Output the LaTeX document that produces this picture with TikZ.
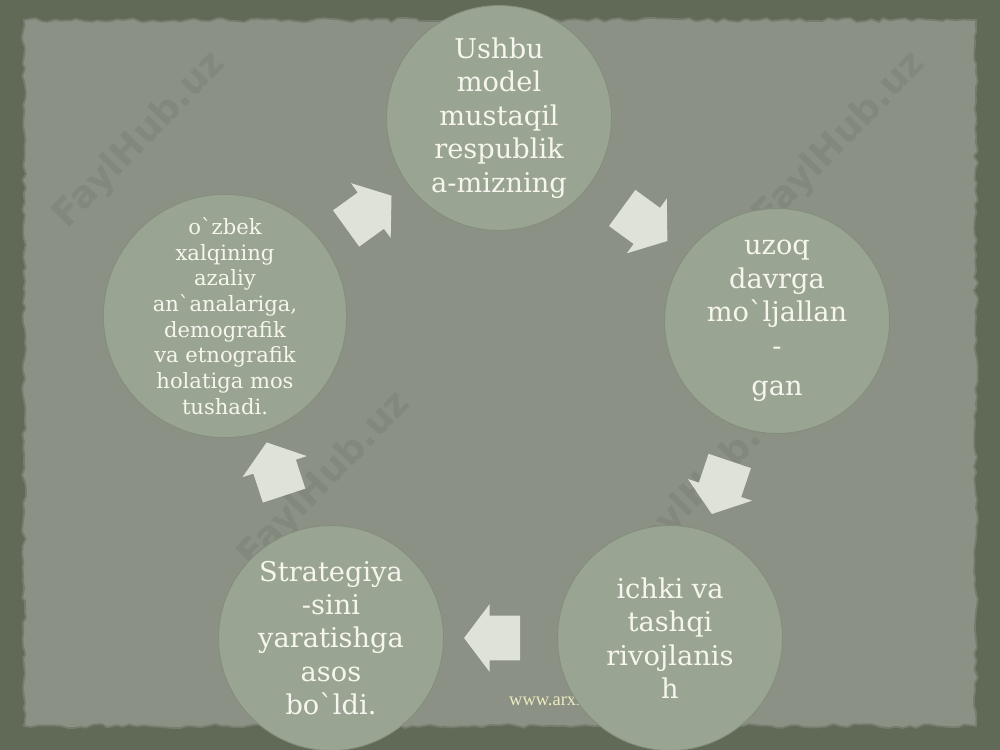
\documentclass[tikz,border=0pt]{standalone}
\usepackage{fontspec}
\setmainfont{DejaVu Serif}
\newfontfamily\markfont{DejaVu Sans}
\newfontfamily\urlfont{Liberation Serif}
\usetikzlibrary{positioning, calc, shapes.arrows, decorations.pathmorphing}
\definecolor{bgolive}{RGB}{96,106,86}
\definecolor{paperfill}{RGB}{139,145,133}
\definecolor{paperedge}{RGB}{118,125,110}
\definecolor{discfill}{RGB}{153,164,146}
\definecolor{discedge}{RGB}{132,142,124}
\definecolor{arrowfill}{RGB}{222,226,216}
\definecolor{chalk}{RGB}{246,246,238}
\definecolor{urlyellow}{RGB}{236,236,190}

\begin{document}
\begin{tikzpicture}[x=0.02cm, y=-0.02cm,
  disc/.style={circle, fill=discfill, draw=discedge, line width=0.5pt, minimum size=4.5cm,
    inner sep=0pt, align=center, text=chalk, font=\fontsize{15.5}{19}\selectfont},
  small disc/.style={disc, font=\fontsize{12}{14.6}\selectfont},
  cyclearrow/.style={single arrow, fill=arrowfill, minimum height=1.12cm, inner xsep=0pt,
    inner ysep=0.44cm, single arrow head extend=0.23cm, single arrow tip angle=106},
  wmark/.style={font=\markfont\bfseries\fontsize{21}{21}\selectfont, text=black, opacity=0.06, rotate=46}]
\useasboundingbox (0,0) rectangle (1000,750);
\fill[bgolive] (0,0) rectangle (1000,750);
\filldraw[fill=paperfill, draw=paperedge, line width=1pt, decorate,
  decoration={random steps, segment length=4pt, amplitude=1.2pt}] (24,20) rectangle (976,726);

\foreach \x/\y [count=\i] in {140/140, 840/140, 325/480, 710/480}
  \node[wmark] (wm\i) at (\x,\y) {FaylHub.uz};
\node[anchor=base west, font=\urlfont\fontsize{10.5}{12}\selectfont, text=urlyellow] (url) at (503,705) {www.arxiv.uz};

\node[disc] (c1) at (499,118) {Ushbu\\model\\mustaqil\\respublik\\a-mizning};
\node[disc] (c2) at (777,321) {uzoq\\davrga\\moˋljallan\\-\\[4pt]gan};
\node[disc] (c3) at (670,638) {ichki va\\tashqi\\rivojlanis\\h};
\node[disc] (c4) at (331,638) {Strategiya\\-sini\\yaratishga\\asos\\boˋldi.};
\node[small disc] (c5) at (225,316) {oˋzbek\\xalqining\\azaliy\\anˋanalariga,\\demografik\\va etnografik\\holatiga mos\\tushadi.};

\foreach \a/\b in {c1/c2, c2/c3, c3/c4, c4/c5, c5/c1}
  \path let \p1=($(\b)-(\a)$), \n1={atan2(\y1,\x1)} in
    node[cyclearrow, rotate=\n1] (\a-\b) at ($(\a)!0.5!(\b)$) {};
\end{tikzpicture}
\end{document}
